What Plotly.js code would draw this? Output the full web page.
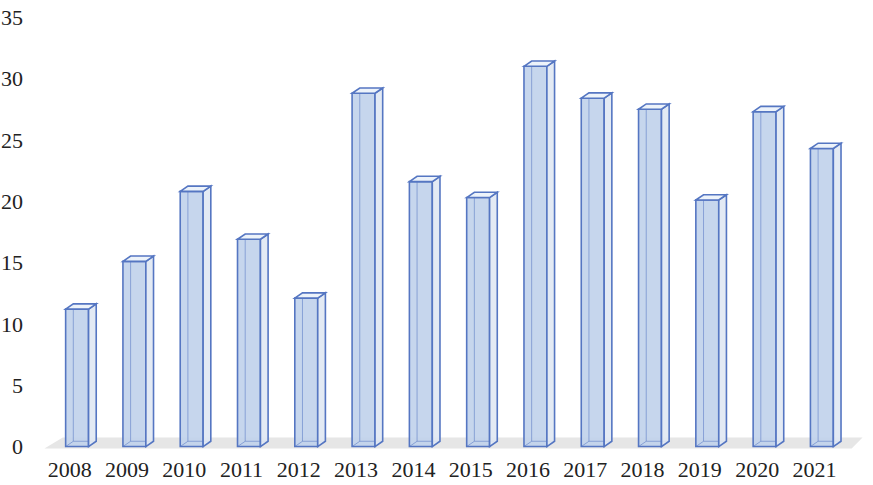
<!DOCTYPE html>
<html>
<head>
<meta charset="utf-8">
<script src="https://cdn.plot.ly/plotly-3.0.1.min.js"></script>
<style>html,body{margin:0;padding:0;background:#fff;} #chart{width:873px;height:485px;}</style>
</head>
<body>
<div id="chart"></div>
<script>
// ---- data ----
const years = ["2008","2009","2010","2011","2012","2013","2014","2015","2016","2017","2018","2019","2020","2021"];
const values = [11.2, 15.1, 20.8, 16.9, 12.1, 28.8, 21.6, 20.3, 31.0, 28.4, 27.5, 20.1, 27.3, 24.3];
const yTicks = [0, 5, 10, 15, 20, 25, 30, 35];

// ---- styling / geometry (not data) ----
const idx = years.map((_, i) => i);
const barW = 0.40, barOff = -0.07;   // front face in x units
const dx = 0.134, dy = 0.43;          // 3-D depth offsets (x units, y units)
const edge = '#5576c2';
const shapes = [];

// floor
const n = years.length;
shapes.push({
  type: 'path', xref: 'x', yref: 'y', layer: 'below',
  path: `M ${-0.44} ${-0.16} L ${-0.12} ${0.73} L ${n - 1 + 0.84} ${0.73} L ${n - 1 + 0.65} ${-0.16} Z`,
  fillcolor: '#e6e6e6', line: {width: 0}
});

values.forEach((v, i) => {
  const x0 = i + barOff, x1 = x0 + barW;
  // back edges seen through the transparent box
  shapes.push({type: 'path', xref: 'x', yref: 'y', layer: 'above',
    path: `M ${x0 + dx} ${dy} L ${x0 + dx} ${v + dy} M ${x0} 0 L ${x0 + dx} ${dy} L ${x1 + dx} ${dy}`,
    line: {color: 'rgba(85,118,194,0.55)', width: 1}});
  // right side face
  shapes.push({type: 'path', xref: 'x', yref: 'y', layer: 'above',
    path: `M ${x1} 0 L ${x1 + dx} ${dy} L ${x1 + dx} ${v + dy} L ${x1} ${v} Z`,
    fillcolor: 'rgba(224,232,243,0.9)', line: {color: edge, width: 1.6}});
  // top face
  shapes.push({type: 'path', xref: 'x', yref: 'y', layer: 'above',
    path: `M ${x0} ${v} L ${x0 + dx} ${v + dy} L ${x1 + dx} ${v + dy} L ${x1} ${v} Z`,
    fillcolor: 'rgba(236,242,250,0.95)', line: {color: edge, width: 1.6}});
});

const trace = {
  type: 'bar', x: idx, y: values,
  width: barW, offset: barOff,
  marker: {color: 'rgba(193,210,236,0.92)', line: {color: edge, width: 1.6}},
  hoverinfo: 'x+y'
};

const font = {family: '"Liberation Serif", "Times New Roman", serif', size: 22, color: '#222'};
const layout = {
  width: 873, height: 485,
  margin: {l: 41, r: 7, t: 16, b: 36},
  paper_bgcolor: '#fff', plot_bgcolor: '#fff',
  showlegend: false,
  font: font,
  xaxis: {
    type: 'linear', range: [-0.5, n - 1 + 0.9],
    tickmode: 'array', tickvals: idx, ticktext: years,
    showgrid: false, zeroline: false, showline: false, ticks: '',
    ticklabelstandoff: 5, tickfont: font
  },
  yaxis: {
    range: [-0.2, 35.1],
    tickmode: 'array', tickvals: yTicks, ticktext: yTicks.map(String),
    showgrid: false, zeroline: false, showline: false, ticks: '',
    ticklabelstandoff: 17, tickfont: font
  },
  shapes: shapes
};

Plotly.newPlot('chart', [trace], layout, {displayModeBar: false, staticPlot: true});
</script>
</body>
</html>
